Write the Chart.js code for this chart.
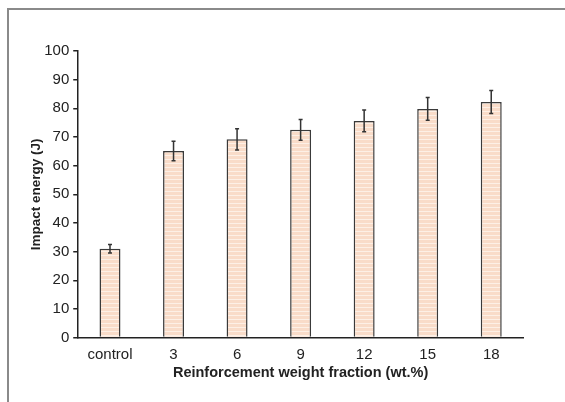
<!DOCTYPE html>
<html>
<head>
<meta charset="utf-8">
<script src="https://cdn.jsdelivr.net/npm/chart.js@4.4.1/dist/chart.umd.min.js"></script>
<style>
  html, body { margin: 0; padding: 0; background: #fff; }
  #wrap { position: relative; width: 565px; height: 402px; }
  #frame { position: absolute; left: 7px; top: 8px; right: -5px; bottom: -5px;
           border-top: 2px solid #8a8a8a; border-left: 2px solid #8a8a8a; pointer-events: none; }
  canvas { position: absolute; left: 0; top: 0; }
</style>
</head>
<body>
<div id="wrap">
  <canvas id="c" width="565" height="402"></canvas>
  <div id="frame"></div>
</div>
<script>
const categories = ["control", "3", "6", "9", "12", "15", "18"];
const impactEnergy = [31.0, 65.1, 69.2, 72.5, 75.6, 79.8, 82.2];
const errorValues = [1.5, 3.4, 3.7, 3.6, 3.8, 4.0, 4.0];
const yTicks = [0, 10, 20, 30, 40, 50, 60, 70, 80, 90, 100];

function stripePattern() {
  const p = document.createElement('canvas');
  p.width = 4; p.height = 4;
  const g = p.getContext('2d');
  g.fillStyle = '#f9dcc9'; g.fillRect(0, 0, 4, 4);
  g.fillStyle = '#fdf0e6'; g.fillRect(0, 3, 4, 1);
  return document.getElementById('c').getContext('2d').createPattern(p, 'repeat');
}

const errorBarPlugin = {
  id: 'errorBars',
  afterDatasetsDraw(chart) {
    const ctx = chart.ctx;
    const meta = chart.getDatasetMeta(0);
    const y = chart.scales.y;
    ctx.save();
    ctx.strokeStyle = '#333';
    ctx.lineWidth = 1.5;
    meta.data.forEach((bar, i) => {
      const v = impactEnergy[i], e = errorValues[i];
      const yt = y.getPixelForValue(v + e);
      const yb = y.getPixelForValue(v - e);
      const x = bar.x;
      ctx.beginPath();
      ctx.moveTo(x, yt); ctx.lineTo(x, yb);
      ctx.moveTo(x - 2, yt); ctx.lineTo(x + 2, yt);
      ctx.moveTo(x - 2, yb); ctx.lineTo(x + 2, yb);
      ctx.stroke();
    });
    ctx.restore();
  }
};

new Chart(document.getElementById('c'), {
  type: 'bar',
  data: {
    labels: categories,
    datasets: [{
      data: impactEnergy,
      backgroundColor: stripePattern(),
      borderColor: '#3a3a3a',
      borderWidth: 1.5,
      barPercentage: 0.66,
      categoryPercentage: 0.5
    }]
  },
  options: {
    responsive: false,
    animation: false,
    layout: { padding: { left: 28, right: 42, top: 51, bottom: 20 } },
    plugins: { legend: { display: false }, tooltip: { enabled: false } },
    scales: {
      x: {
        grid: { display: false, drawTicks: false },
        border: { display: true, color: '#222', width: 1.5 },
        ticks: { color: '#222', font: { family: 'Liberation Sans', size: 15 }, padding: 8 },
        title: { display: true, text: 'Reinforcement weight fraction (wt.%)', color: '#222',
                 font: { family: 'Liberation Sans', size: 14.5, weight: 'bold' }, padding: { top: -7, bottom: 0 } }
      },
      y: {
        min: 0, max: 100,
        afterBuildTicks(scale) { scale.ticks = yTicks.map(v => ({ value: v })); },
        grid: { display: true, drawOnChartArea: false, drawTicks: true, tickLength: 5, color: '#222', lineWidth: 1.5 },
        border: { display: true, color: '#222', width: 1.5 },
        ticks: { color: '#222', font: { family: 'Liberation Sans', size: 15 }, padding: 4 },
        title: { display: true, text: 'Impact energy (J)', color: '#222',
                 font: { family: 'Liberation Sans', size: 13.5, weight: 'bold' }, padding: { top: 0, bottom: -4 } }
      }
    }
  },
  plugins: [errorBarPlugin]
});
</script>
</body>
</html>
